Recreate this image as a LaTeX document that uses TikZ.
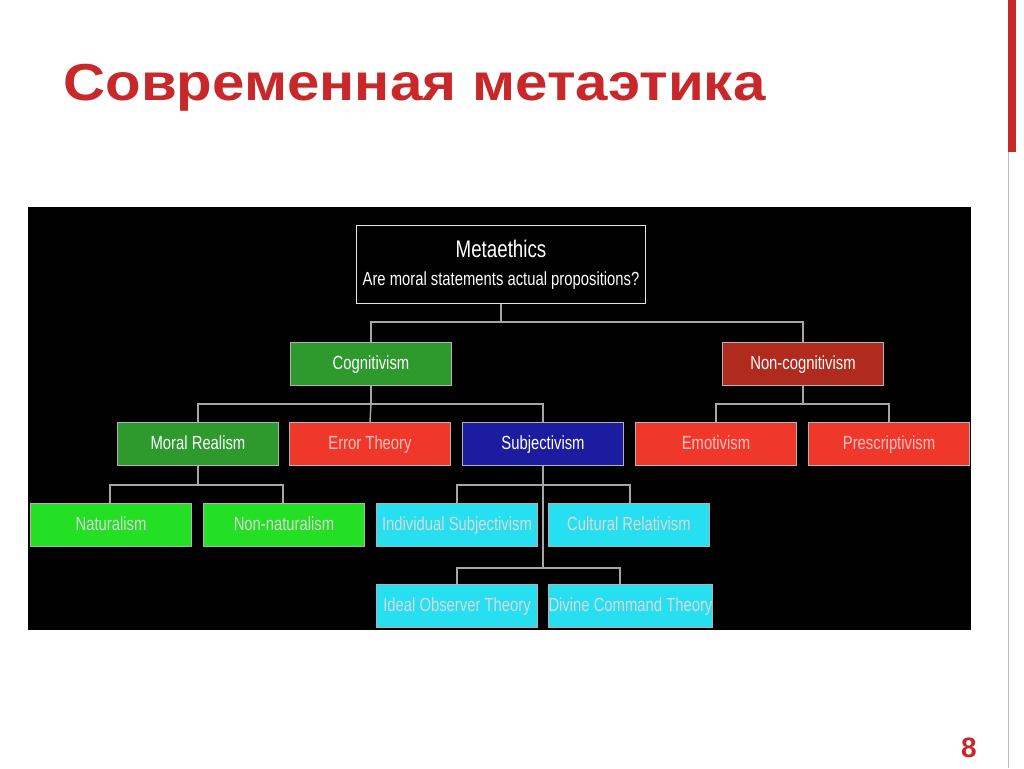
\documentclass[tikz,border=0pt]{standalone}
\usepackage{fontspec}
\setmainfont{Liberation Sans}
\newfontfamily\cond[FakeStretch=0.78]{Liberation Sans}
\newfontfamily\wide[FakeStretch=1.12]{Liberation Sans}
\definecolor{ttl}{HTML}{C8282A}
\definecolor{cg}{HTML}{2E9A2E}
\definecolor{dr}{HTML}{B02A1E}
\definecolor{br}{HTML}{F0382A}
\definecolor{bl}{HTML}{1C1CA0}
\definecolor{lg}{HTML}{24E024}
\definecolor{cy}{HTML}{26E0F2}
\begin{document}
\begin{tikzpicture}[x=1pt,y=-1pt,
 bx/.style={draw=gray!60,line width=1pt,minimum width=161pt,minimum height=43pt,anchor=north west,inner sep=0pt,text height=13pt,text depth=3pt,font=\cond\fontsize{19}{21}\selectfont,text=white},
 ln/.style={draw=gray!70,line width=1.5pt}]
\useasboundingbox (0,0) rectangle (1024,768);
\fill[white] (0,0) rectangle (1024,768);
\draw[gray!50] (1008,0) -- (1008,768);
\fill[ttl] (1008,0) rectangle (1016,152);
\node[anchor=west,text=ttl,font=\wide\bfseries\fontsize{52}{56}\selectfont] (title) at (60,88) {Современная метаэтика};
\node[text=ttl,font=\bfseries\fontsize{28}{30}\selectfont] (pg) at (969,748) {8};
\fill[black] (28,207) rectangle (971,630);
\node[draw=white!80!gray,line width=1pt,fill=black,minimum width=289pt,minimum height=78pt,anchor=north west,inner sep=0pt,text=white,align=center,font=\cond\fontsize{19}{28}\selectfont] (meta) at (356,225) {{\fontsize{24}{28}\selectfont Metaethics}\\Are moral statements actual propositions?};
\node[bx,fill=cg] (cog) at (290,342) {Cognitivism};
\node[bx,fill=dr] (ncog) at (722,342) {Non-cognitivism};
\node[bx,fill=cg] (mr) at (117,422) {Moral Realism};
\node[bx,fill=br,text=white!75!red] (et) at (289,422) {Error Theory};
\node[bx,fill=bl] (sub) at (462,422) {Subjectivism};
\node[bx,fill=br,text=white!75!red] (emo) at (635,422) {Emotivism};
\node[bx,fill=br,text=white!75!red] (pre) at (808,422) {Prescriptivism};
\node[bx,fill=lg,text=white!85!black] (nat) at (30,503) {Naturalism};
\node[bx,fill=lg,text=white!85!black] (nnat) at (203,503) {Non-naturalism};
\node[bx,fill=cy,text=white!85!black] (ind) at (376,503) {Individual Subjectivism};
\node[bx,fill=cy,text=white!85!black] (cul) at (548,503) {Cultural Relativism};
\node[bx,fill=cy,text=white!85!black] (ido) at (376,584) {Ideal Observer Theory};
\node[bx,fill=cy,text=white!85!black] (div) at (548,584) {Divine Command Theory};
\draw[ln] (meta.south) -- ++(0,18) coordinate (m1);
\draw[ln] (cog.north) |- (m1) -| (ncog.north);
\draw[ln] (cog.south) -- ++(0,18) coordinate (c1);
\draw[ln] (mr.north) |- (c1) -| (sub.north);
\draw[ln] (c1) -- (et.north);
\draw[ln] (ncog.south) -- ++(0,18) coordinate (n1);
\draw[ln] (n1) -| (716,422);
\draw[ln] (n1) -| (889,422);
\draw[ln] (mr.south) -- ++(0,19) coordinate (r1);
\draw[ln] (r1) -| (110,503);
\draw[ln] (r1) -| (283,503);
\draw[ln] (sub.south) -- ++(0,19) coordinate (s1);
\draw[ln] (s1) -| (457,503);
\draw[ln] (s1) -| (630,503);
\draw[ln] (s1) -- (543,568) coordinate (s2);
\draw[ln] (s2) -| (457,584);
\draw[ln] (s2) -| (620,584);
\end{tikzpicture}
\end{document}
